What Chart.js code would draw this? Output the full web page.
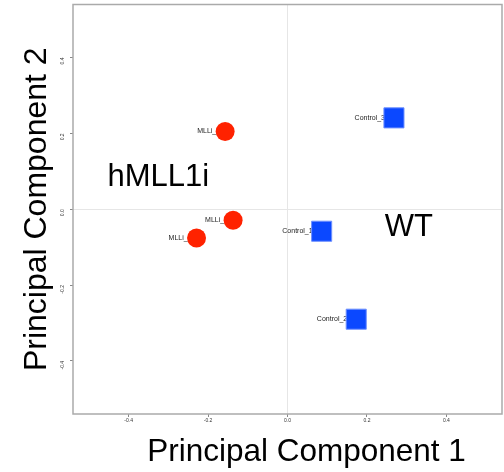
<!DOCTYPE html>
<html>
<head>
<meta charset="utf-8">
<script src="https://cdn.jsdelivr.net/npm/chart.js@4/dist/chart.umd.min.js"></script>
<style>
  body { margin: 0; background: #fff; }
  canvas { display: block; }
</style>
</head>
<body>
<canvas id="pcaChart" width="504" height="472"></canvas>
<script>
// PCA scores
const mlliNames = ['MLLi_1', 'MLLi_2', 'MLLi_3'];
const mlliX = [-0.157, -0.137, -0.229];
const mlliY = [0.205, -0.029, -0.076];

const ctrlNames = ['Control_3', 'Control_1', 'Control_2'];
const ctrlX = [0.268, 0.086, 0.173];
const ctrlY = [0.241, -0.058, -0.290];

const groupNames = ['hMLL1i', 'WT'];
const groupX = [-0.453, 0.245];
const groupY = [0.061, -0.071];

const xTicks = [-0.4, -0.2, 0.0, 0.2, 0.4];
const yTicks = [-0.4, -0.2, 0.0, 0.2, 0.4];

const FONT = '"Liberation Sans", Arial, Helvetica, sans-serif';

function toPoints(xs, ys, names) {
    return xs.map((x, i) => ({ x: x, y: ys[i], name: names[i] }));
}

// sample names sit left of each marker, the marker covers part of them
const pointLabels = {
    id: 'pointLabels',
    beforeDatasetsDraw(chart) {
        const ctx = chart.ctx;
        ctx.save();
        ctx.font = '7px ' + FONT;
        ctx.fillStyle = '#222';
        ctx.textAlign = 'right';
        ctx.textBaseline = 'middle';
        chart.data.datasets.forEach((ds, di) => {
            const meta = chart.getDatasetMeta(di);
            meta.data.forEach((el, i) => {
                ctx.fillText(ds.data[i].name, el.x - ds.labelGap, el.y);
            });
        });
        ctx.restore();
    }
};

// frame, group names and axis titles
const decorations = {
    id: 'decorations',
    beforeDraw(chart) {
        const ctx = chart.ctx;
        ctx.save();
        ctx.fillStyle = '#fff';
        ctx.fillRect(0, 0, chart.width, chart.height);
        ctx.restore();
    },
    afterDraw(chart) {
        const ctx = chart.ctx;
        const a = chart.chartArea;
        const xs = chart.scales.x, ys = chart.scales.y;
        ctx.save();
        ctx.strokeStyle = '#aaaaaa';
        ctx.lineWidth = 1.5;
        ctx.strokeRect(a.left, a.top, a.right - a.left, a.bottom - a.top);

        ctx.fillStyle = '#000';
        ctx.font = '31px ' + FONT;
        ctx.textAlign = 'left';
        ctx.textBaseline = 'alphabetic';
        for (let i = 0; i < groupNames.length; i++) {
            ctx.fillText(groupNames[i], xs.getPixelForValue(groupX[i]), ys.getPixelForValue(groupY[i]));
        }

        ctx.textAlign = 'center';
        ctx.font = '31.5px ' + FONT;
        ctx.fillText('Principal Component 1', 306.5, 461);
        ctx.font = '32px ' + FONT;
        ctx.translate(46, (a.top + a.bottom) / 2);
        ctx.rotate(-Math.PI / 2);
        ctx.fillText('Principal Component 2', 0, 0);
        ctx.restore();
    }
};

function zeroGrid(c) {
    return c.tick && c.tick.value === 0 ? '#e6e6e6' : 'rgba(0,0,0,0)';
}

function noPadding(s) {
    s.paddingTop = 0;
    s.paddingBottom = 0;
    s.paddingLeft = 0;
    s.paddingRight = 0;
}

const chart = new Chart(document.getElementById('pcaChart'), {
    type: 'scatter',
    data: {
        datasets: [{
            label: 'hMLL1i',
            data: toPoints(mlliX, mlliY, mlliNames),
            pointStyle: 'circle',
            pointRadius: 9.5,
            backgroundColor: '#ff2200',
            borderColor: '#ff2200',
            borderWidth: 0,
            labelGap: 5
        },
        {
            label: 'WT',
            data: toPoints(ctrlX, ctrlY, ctrlNames),
            pointStyle: 'rect',
            pointRadius: 14.2,
            backgroundColor: '#0b48ff',
            borderColor: '#6e90ff',
            borderWidth: 1,
            labelGap: 9
        }]
    },
    options: {
        responsive: false,
        animation: false,
        events: [],
        layout: { autoPadding: false, padding: { top: 4.5, right: 2, left: 0, bottom: 0 } },
        plugins: {
            legend: { display: false },
            tooltip: { enabled: false }
        },
        scales: {
            x: {
                type: 'linear',
                min: -0.54,
                max: 0.54,
                afterBuildTicks: s => { s.ticks = xTicks.map(v => ({ value: v })); },
                afterFit: s => { s.height = 58; noPadding(s); },
                grid: { color: zeroGrid, tickColor: '#888', tickLength: 3, lineWidth: 1 },
                border: { display: false },
                ticks: {
                    font: { family: FONT, size: 5 },
                    color: '#333',
                    padding: 1,
                    maxRotation: 0,
                    callback: v => v.toFixed(1)
                }
            },
            y: {
                type: 'linear',
                min: -0.54,
                max: 0.54,
                afterBuildTicks: s => { s.ticks = yTicks.map(v => ({ value: v })); },
                afterFit: s => { s.width = 73; noPadding(s); },
                grid: { color: zeroGrid, tickColor: '#888', tickLength: 3, lineWidth: 1 },
                border: { display: false },
                ticks: {
                    font: { family: FONT, size: 5 },
                    color: '#333',
                    padding: 7,
                    minRotation: 90,
                    maxRotation: 90,
                    crossAlign: 'near',
                    callback: v => v.toFixed(1)
                }
            }
        }
    },
    plugins: [pointLabels, decorations]
});
</script>
</body>
</html>
